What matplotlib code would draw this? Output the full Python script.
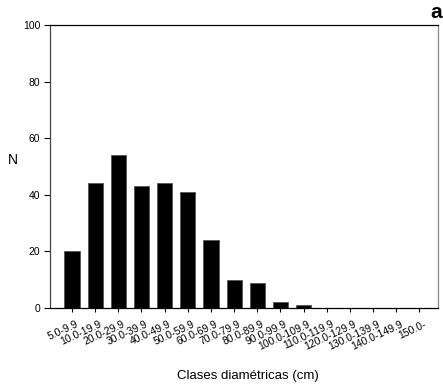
import numpy as np
import matplotlib

matplotlib.use('Agg')
import matplotlib.pyplot as plt
import matplotlib.transforms as mtransforms

plt.rcParams['font.family'] = ['Liberation Sans', 'DejaVu Sans']

clases = ['5.0-9.9', '10.0-19.9', '20.0-29.9', '30.0-39.9', '40.0-49.9',
          '50.0-59.9', '60.0-69.9', '70.0-79.9', '80.0-89.9', '90.0-99.9',
          '100.0-109.9', '110.0-119.9', '120.0-129.9', '130.0-139.9',
          '140.0-149.9', '150.0-']
n_arboles = [20, 44, 54, 43, 44, 41, 24, 10, 9, 2, 1, 0, 0, 0, 0, 0]
y_ticks = [0, 20, 40, 60, 80, 100]

fig = plt.figure(figsize=(4.43, 3.92), dpi=100)
ax = fig.add_axes([50 / 443, 1 - 308 / 392, 388 / 443, 283 / 392])

index = np.arange(len(clases))
ax.bar(index, n_arboles, width=0.65, color='black', edgecolor='#555555', linewidth=0.6)

ax.set_xlim(-0.95, 15.8)
ax.set_ylim(0, 100)
ax.set_yticks(y_ticks)
ax.set_yticklabels([str(v) for v in y_ticks], fontsize=7.5)
ax.set_xticks(index)
ax.set_xticklabels(clases, rotation=25, ha='right', rotation_mode='anchor', fontsize=7.5)
ax.tick_params(axis='y', direction='out', length=4, width=0.8, pad=3)
ax.tick_params(axis='x', direction='out', length=3, width=0.8, pad=5)

# shift x labels a little to the right, like the original
offset = mtransforms.ScaledTranslation(4 / 100, 0, fig.dpi_scale_trans)
for lbl in ax.get_xticklabels():
    lbl.set_transform(lbl.get_transform() + offset)

for side in ['top', 'right', 'left', 'bottom']:
    ax.spines[side].set_linewidth(0.9)
ax.spines['right'].set_color('#888888')
ax.spines['left'].set_color('#444444')

fig.text(12.5 / 443, 1 - 160 / 392, 'N', fontsize=10, ha='center', va='center')
fig.text(248 / 443, 1 - 376 / 392, 'Clases diamétricas (cm)', fontsize=9.5, ha='center', va='center')
fig.text(436 / 443, 1 - 13 / 392, 'a', fontsize=15, fontweight='bold', ha='center', va='center')

fig.savefig('out.png', dpi=100)
